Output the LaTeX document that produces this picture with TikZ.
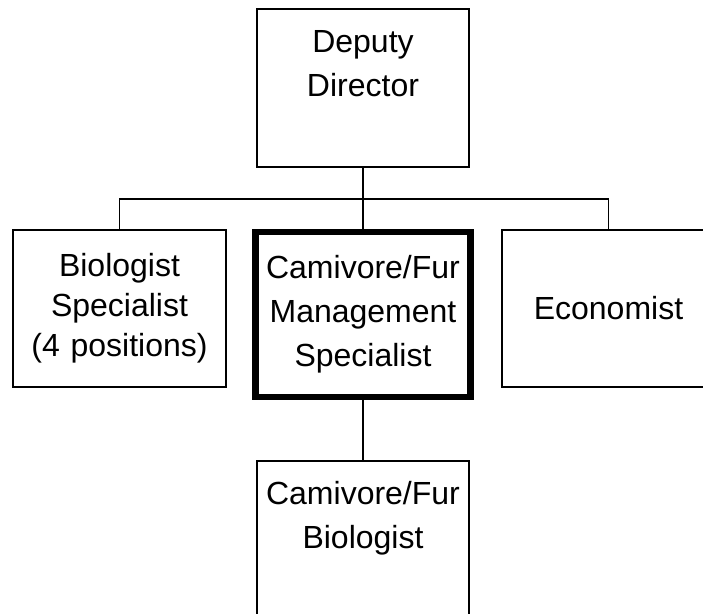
\documentclass[tikz,border=0pt]{standalone}
\usepackage{fontspec}
\newfontfamily\orgfont{Liberation Sans}

\begin{document}
\begin{tikzpicture}[x=1pt,y=-1pt,
                post/.style={draw,line width=1.5pt,outer sep=0pt,inner xsep=4pt,align=center,
                        font=\orgfont\fontsize{32}{44}\selectfont},
                toppost/.style={post,text width=204pt,inner ysep=20pt,text height=23pt,text depth=95pt},
                sidepost/.style={post,inner ysep=0pt,text width=204pt,minimum width=213pt,minimum height=157pt},
                keypost/.style={sidepost,line width=6.5pt,minimum width=215pt,minimum height=165pt}]
                \useasboundingbox (0,0) rectangle (703,613);
                \clip (0,0) rectangle (703,613);
                \fill[white] (0,0) rectangle (703,613);

                \node[toppost,anchor=north] (dep) at (363,9) {Deputy\\Director};
                \node[sidepost,font=\orgfont\fontsize{32}{40}\selectfont] (bio) at (119.5,308.5) {Biologist\\Specialist\\(4 positions)};
                \node[keypost] (mid) at (363,314.5) {Camivore/Fur\\Management\\Specialist};
                \node[sidepost] (eco) at (608.5,308.5) {Economist};
                \node[toppost,anchor=north] (fur) at (363,461) {Camivore/Fur\\Biologist};

                \coordinate (bus) at (363,199);

                \draw[line width=1.5pt] (dep.south) -- (mid.north)
                (mid.south) -- (fur.north)
                (bio.north) |- (bus) -| (eco.north);
            \end{tikzpicture}
\end{document}
